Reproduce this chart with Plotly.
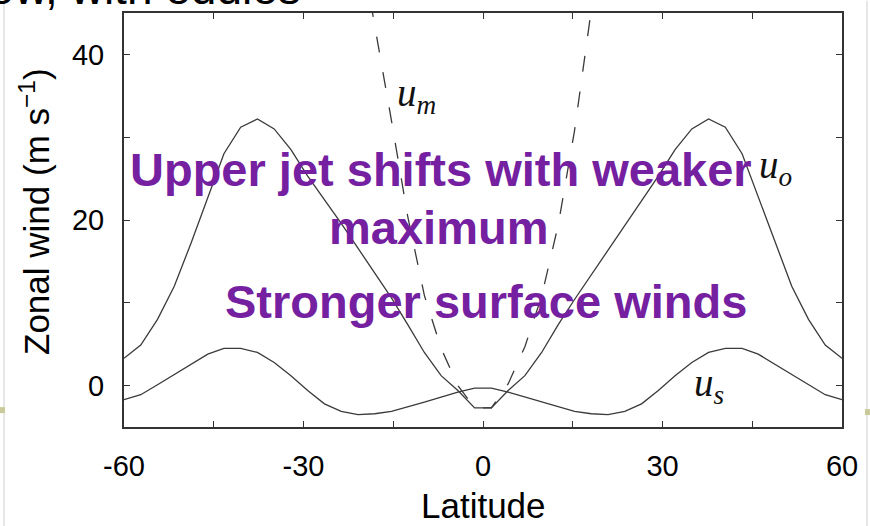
import plotly.graph_objects as go

# ---------------- data ----------------
lat = [-60.0, -57.2, -54.4, -51.6, -48.8, -46.0, -43.3, -40.5, -37.7, -34.9, -32.1,
       -29.3, -26.5, -23.7, -20.9, -18.1, -15.3, -12.6, -9.8, -7.0, -4.2, -1.4,
       1.4, 4.2, 7.0, 9.8, 12.6, 15.3, 18.1, 20.9, 23.7, 26.5, 29.3, 32.1, 34.9,
       37.7, 40.5, 43.3, 46.0, 48.8, 51.6, 54.4, 57.2, 60.0]

u_o = [3.3, 4.9, 8.0, 12.0, 17.2, 22.8, 28.0, 31.2, 32.2, 31.0, 28.5,
       25.3, 22.5, 19.6, 16.6, 13.6, 10.6, 7.4, 4.0, 1.2, -0.6, -2.7,
       -2.7, -0.6, 1.2, 4.0, 7.4, 10.4, 13.4, 16.4, 19.4, 22.3, 25.3, 28.5, 31.0,
       32.2, 31.2, 28.0, 22.8, 17.2, 12.0, 8.0, 4.9, 3.3]

u_s = [-1.7, -1.1, 0.1, 1.3, 2.6, 3.8, 4.5, 4.5, 4.0, 2.8, 1.2,
       -0.6, -2.2, -3.1, -3.5, -3.4, -3.1, -2.6, -2.0, -1.4, -0.8, -0.3,
       -0.3, -0.8, -1.4, -2.0, -2.6, -3.1, -3.4, -3.5, -3.1, -2.2, -0.6, 1.2, 2.8,
       4.0, 4.5, 4.5, 3.8, 2.6, 1.3, 0.1, -1.1, -1.7]

lat_m = [-20.9, -18.1, -15.3, -12.6, -9.8, -7.0, -4.2, -1.4,
         1.4, 4.2, 7.0, 9.8, 12.6, 15.3, 18.1, 20.9]
u_m = [55.0, 43.6, 32.0, 20.5, 10.9, 4.5, 0.0, -2.7,
       -2.7, 0.2, 4.7, 10.8, 19.5, 30.8, 45.5, 60.0]

x_tickvals = [-60, -30, 0, 30, 60]
x_ticktext = ["-60", "-30", "0", "30", "60"]
x_minorvals = [-45, -15, 15, 45]
y_tickvals = [0, 20, 40]
y_ticktext = ["0", "20", "40"]
y_minorvals = [10, 30]

# ---------------- figure ----------------
LINE = "#3a3a3a"
PURPLE = "#7420A0"
SANS = "Liberation Sans, Arial, sans-serif"

fig = go.Figure()
fig.add_trace(go.Scatter(x=lat, y=u_o, mode="lines",
                         line=dict(color=LINE, width=1.3), hoverinfo="skip"))
fig.add_trace(go.Scatter(x=lat, y=u_s, mode="lines",
                         line=dict(color=LINE, width=1.3), hoverinfo="skip"))
fig.add_trace(go.Scatter(x=lat_m, y=u_m, mode="lines",
                         line=dict(color=LINE, width=1.3, dash="16px,20px"),
                         hoverinfo="skip"))

axis_common = dict(
    showline=True, linecolor="#333333", linewidth=2, mirror="allticks",
    ticks="inside", ticklen=6, tickwidth=1.3, tickcolor="#333333",
    showgrid=False, zeroline=False,
    tickfont=dict(family=SANS, size=29, color="black"),
)

fig.update_xaxes(range=[-60, 60], tickvals=x_tickvals, ticktext=x_ticktext,
                 ticklabelstandoff=12,
                 minor=dict(tickvals=x_minorvals, ticks="inside", ticklen=6,
                            tickwidth=1.3, tickcolor="#333333", showgrid=False),
                 **axis_common)
fig.update_yaxes(range=[-5, 45], tickvals=y_tickvals, ticktext=y_ticktext,
                 ticklabelstandoff=12,
                 minor=dict(tickvals=y_minorvals, ticks="inside", ticklen=6,
                            tickwidth=1.3, tickcolor="#333333", showgrid=False),
                 **axis_common)

ann = []
# axis titles
ann.append(dict(xref="paper", yref="paper", x=0.5, y=-0.19, text="Latitude",
                showarrow=False, xanchor="center", yanchor="middle",
                font=dict(family=SANS, size=35, color="black")))
ann.append(dict(xref="paper", yref="paper", x=-0.125, y=0.52,
                text="Zonal wind (m s<sup>−1</sup>)", textangle=-90,
                showarrow=False, xanchor="center", yanchor="middle",
                font=dict(family=SANS, size=35, color="black")))
# curve labels
lab_font = dict(family="Liberation Serif, Times New Roman, serif", size=39, color="#111111")
ann.append(dict(x=-14.7, y=35.0, text="<i>u</i><sub><i>m</i></sub>", showarrow=False,
                xanchor="left", yanchor="middle", font=lab_font))
ann.append(dict(x=45.8, y=26.3, text="<i>u</i><sub><i>o</i></sub>", showarrow=False,
                xanchor="left", yanchor="middle", font=lab_font))
ann.append(dict(x=34.9, y=0.0, text="<i>u</i><sub><i>s</i></sub>", showarrow=False,
                xanchor="left", yanchor="middle", font=lab_font))
# purple commentary
pfont = dict(family=SANS, size=47, color=PURPLE, weight="bold")
ann.append(dict(x=-7.1, y=26.1, text="Upper jet shifts with weaker", showarrow=False,
                xanchor="center", yanchor="middle", font=pfont))
ann.append(dict(x=-7.4, y=19.1, text="maximum", showarrow=False,
                xanchor="center", yanchor="middle", font=pfont))
ann.append(dict(x=0.5, y=10.1, text="Stronger surface winds", showarrow=False,
                xanchor="center", yanchor="middle", font=pfont))
# cut-off slide title at the very top
ann.append(dict(xref="paper", yref="paper", x=0.2493, y=0.992,
                text="Mean flow, with eddies", showarrow=False,
                xanchor="right", yanchor="bottom",
                font=dict(family=SANS, size=46, color="black")))

shapes = [
    dict(type="line", xref="paper", yref="paper", x0=-0.1671, x1=-0.1671, y0=-0.24, y1=1.03,
         line=dict(color="#cfcfcf", width=1)),
    dict(type="line", xref="paper", yref="paper", x0=1.0348, x1=1.0348, y0=-0.24, y1=1.03,
         line=dict(color="#cfcfcf", width=1)),
    dict(type="rect", xref="paper", yref="paper", x0=-0.175, x1=-0.1657, y0=0.0336, y1=0.048,
         line=dict(width=0), fillcolor="#c9c99a"),
    dict(type="rect", xref="paper", yref="paper", x0=1.032, x1=1.04, y0=0.0288, y1=0.0432,
         line=dict(width=0), fillcolor="#c9c99a"),
]

fig.update_layout(
    width=870, height=526,
    margin=dict(l=124, r=28, t=11, b=99),
    paper_bgcolor="white", plot_bgcolor="white",
    showlegend=False,
    annotations=ann, shapes=shapes,
)

fig.write_html("out.html")
